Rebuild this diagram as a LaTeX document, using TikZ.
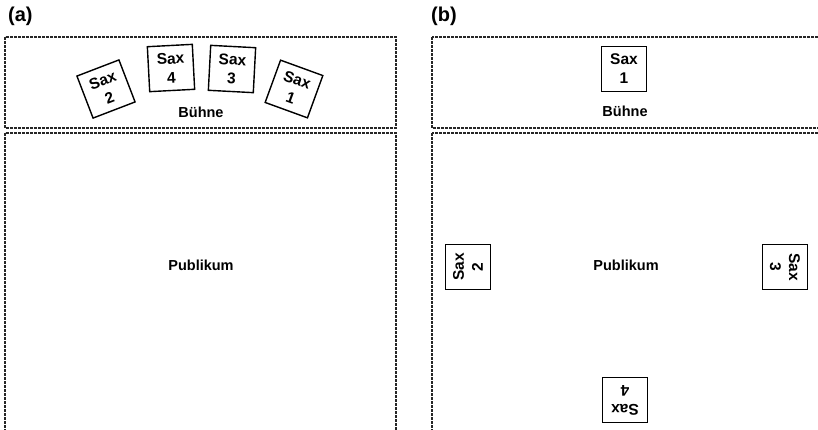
\documentclass[tikz,border=0pt]{standalone}
\usepackage{fontspec}
\setmainfont{Liberation Sans}
\begin{document}
\begin{tikzpicture}[x=1pt,y=-1pt,
  zone/.style={draw=black!85, line width=1.3pt, dash pattern=on 2.6pt off 1.4pt},
  saxbox/.style={draw, line width=1.4pt, minimum width=45pt, minimum height=45pt, inner sep=0pt, align=center,
    font=\fontsize{15.5}{19}\selectfont\bfseries},
  lbl/.style={font=\fontsize{14.5}{16}\selectfont\bfseries},
  panel/.style={font=\fontsize{20}{22}\selectfont\bfseries, anchor=north west, inner sep=0pt}]
\useasboundingbox (0,0) rectangle (818,429);
\clip (0,0) rectangle (818,429);
% panel labels
\node[panel] (pa) at (8,7) {(a)};
\node[panel] (pb) at (431,7) {(b)};
% panel (a)
\draw[zone] (5,37) rectangle (396,128);
\draw[zone] (5,133) rectangle (396,440);
\node[saxbox, rotate=21] (a2) at (106,89) {Sax\\2};
\node[saxbox, rotate=3] (a4) at (171,68) {Sax\\4};
\node[saxbox, rotate=-3] (a3) at (232,69) {Sax\\3};
\node[saxbox, rotate=-20] (a1) at (294,89) {Sax\\1};
\node[lbl] (abuehne) at (201,112) {Bühne};
\node[lbl] (apub) at (201,265) {Publikum};
% panel (b)
\draw[zone] (432,37) rectangle (830,128);
\draw[zone] (432,133) rectangle (830,440);
\node[saxbox] (b1) at (624,69) {Sax\\1};
\node[lbl] (bbuehne) at (625,111) {Bühne};
\node[lbl] (bpub) at (626,265) {Publikum};
\node[saxbox, rotate=90] (b2) at (468,267) {Sax\\2};
\node[saxbox, rotate=-90] (b3) at (785,267) {Sax\\3};
\node[saxbox, rotate=180] (b4) at (625,400) {Sax\\4};
\end{tikzpicture}
\end{document}
